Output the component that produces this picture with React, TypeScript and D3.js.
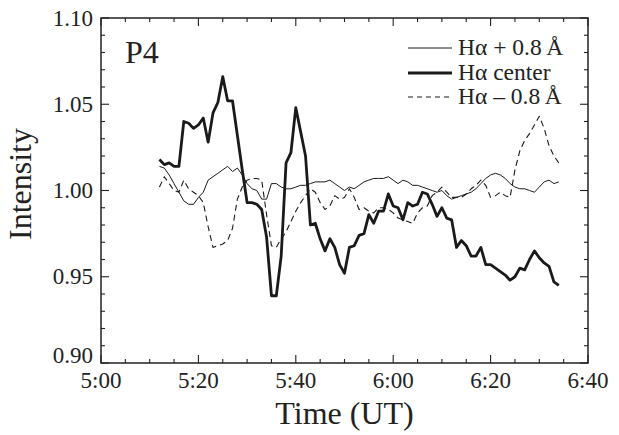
import React from "react";
import * as d3 from "d3";

// minutes after 5:00 UT
const minutes = [
  12, 13, 14, 15, 16, 17, 18, 19, 20, 21, 22, 23, 24, 25, 26, 27, 28, 29, 30, 31,
  32, 33, 34, 35, 36, 37, 38, 39, 40, 41, 42, 43, 44, 45, 46, 47, 48, 49, 50, 51,
  52, 53, 54, 55, 56, 57, 58, 59, 60, 61, 62, 63, 64, 65, 66, 67, 68, 69, 70, 71,
  72, 73, 74, 75, 76, 77, 78, 79, 80, 81, 82, 83, 84, 85, 86, 87, 88, 89, 90, 91,
  92, 93, 94,
];

const haPlus = [
  1.014, 1.013, 1.009, 1.004, 0.999, 0.994, 0.992, 0.992, 0.996, 0.999,
  1.006, 1.008, 1.010, 1.012, 1.014, 1.011, 1.013, 1.009, 1.004, 1.001,
  1.000, 0.995, 0.995, 1.004, 1.004, 1.002, 1.001, 1.001, 1.002, 1.003,
  1.003, 1.004, 1.005, 1.005, 1.005, 1.006, 1.004, 1.002, 1.000, 1.002,
  1.001, 1.003, 1.005, 1.006, 1.007, 1.007, 1.007, 1.008, 1.006, 1.004,
  1.006, 1.005, 1.003, 1.003, 1.002, 1.001, 1.000, 0.999, 1.000, 0.997,
  0.995, 0.996, 0.997, 0.998, 0.999, 1.001, 1.004, 1.007, 1.009, 1.010,
  1.009, 1.007, 1.004, 1.002, 1.001, 1.001, 1.000, 0.999, 1.002, 1.005,
  1.006, 1.004, 1.005,
];

const haCenter = [
  1.018, 1.015, 1.016, 1.014, 1.014, 1.040, 1.039, 1.036, 1.038, 1.042,
  1.028, 1.045, 1.051, 1.066, 1.052, 1.052, 1.032, 1.012, 0.993, 0.993,
  0.992, 0.989, 0.973, 0.939, 0.939, 0.962, 1.016, 1.022, 1.048, 1.034,
  1.020, 0.980, 0.981, 0.972, 0.965, 0.972, 0.967, 0.957, 0.952, 0.967,
  0.968, 0.974, 0.975, 0.986, 0.981, 0.988, 0.988, 0.998, 0.991, 0.990,
  0.983, 0.993, 0.991, 0.992, 0.999, 0.998, 0.992, 0.985, 0.990, 0.984,
  0.983, 0.967, 0.971, 0.968, 0.962, 0.962, 0.967, 0.957, 0.957, 0.955,
  0.953, 0.951, 0.948, 0.950, 0.955, 0.954, 0.960, 0.965, 0.961, 0.958,
  0.956, 0.947, 0.945,
];

const haMinus = [
  1.002, 1.008, 1.004, 1.000, 0.999, 1.006, 1.001, 0.999, 0.997, 0.993,
  0.979, 0.967, 0.968, 0.969, 0.971, 0.978, 0.995, 1.002, 1.006, 1.007,
  1.007, 1.006, 0.986, 0.968, 0.967, 0.972, 0.976, 0.982, 0.988, 0.993,
  0.997, 1.001, 0.999, 0.993, 0.989, 0.991, 0.997, 0.995, 0.996, 1.001,
  0.996, 0.989, 0.990, 0.988, 0.987, 0.990, 0.990, 0.989, 0.987, 0.984,
  0.983, 0.982, 0.981, 0.987, 0.990, 0.991, 0.997, 0.999, 1.002, 0.999,
  0.996, 0.996, 0.996, 0.998, 1.001, 1.003, 1.006, 1.003, 0.996, 0.997,
  0.999, 0.997, 0.996, 1.012, 1.023, 1.029, 1.033, 1.038, 1.043, 1.036,
  1.026, 1.020, 1.016,
];

const xTickLabels = ["5:00", "5:20", "5:40", "6:00", "6:20", "6:40"];
const yTickLabels = ["0.90", "0.95", "1.00", "1.05", "1.10"];
const legendLabels = ["H\u03b1 + 0.8\u2009\u00c5", "H\u03b1 center", "H\u03b1 \u2013 0.8\u2009\u00c5"];

const W = 619;
const H = 435;
const L = 101, R = 588, T = 18, B = 363;
const FONT = "'Liberation Serif', 'Times New Roman', serif";

export default function App() {
  const x = d3.scaleLinear().domain([0, 100]).range([L, R]);
  const y = d3.scaleLinear().domain([0.9, 1.1]).range([B, T]);

  const mk = (vals: number[]) =>
    d3
      .line<number>()
      .x((_, i) => x(minutes[i]))
      .y((d) => y(d))(vals) as string;

  const xMinor = d3.range(0, 101, 5);
  const yMinor = d3.range(0, 21).map((i) => 0.9 + i * 0.01);

  const series = [
    { vals: haPlus, w: 1.0, dash: undefined as string | undefined },
    { vals: haCenter, w: 2.8, dash: undefined },
    { vals: haMinus, w: 1.1, dash: "6,4" },
  ];

  const legendY = [48, 73, 97];

  return (
    <svg
      width={W}
      height={H}
      style={{ position: "absolute", left: 0, top: 0, background: "#fff" }}
      fontFamily={FONT}
    >
      <rect x={0} y={0} width={W} height={H} fill="#fff" />
      {/* ticks */}
      {xMinor.map((m) => {
        const major = m % 20 === 0;
        const len = major ? 8 : 4;
        const xx = x(m);
        return (
          <g key={"xt" + m} stroke="#222" strokeWidth={1.1}>
            <line x1={xx} x2={xx} y1={B} y2={B - len} />
            <line x1={xx} x2={xx} y1={T} y2={T + len} />
          </g>
        );
      })}
      {yMinor.map((v, i) => {
        const major = i % 5 === 0;
        const len = major ? 8 : 4;
        const yy = y(v);
        return (
          <g key={"yt" + i} stroke="#222" strokeWidth={1.1}>
            <line x1={L} x2={L + len} y1={yy} y2={yy} />
            <line x1={R} x2={R - len} y1={yy} y2={yy} />
          </g>
        );
      })}
      <rect x={L} y={T} width={R - L} height={B - T} fill="none" stroke="#222" strokeWidth={1.5} />

      {/* tick labels */}
      {xTickLabels.map((t, i) => (
        <text key={t} x={x(i * 20)} y={388} textAnchor="middle" fontSize={23} fill="#222">
          {t}
        </text>
      ))}
      {yTickLabels.map((t, i) => (
        <text
          key={t}
          x={93}
          y={y(0.9 + i * 0.05) + (i === 0 ? -8 : 0)}
          dy="0.33em"
          textAnchor="end"
          fontSize={23}
          fill="#222"
        >
          {t}
        </text>
      ))}

      {/* axis titles */}
      <text x={(L + R) / 2} y={424} textAnchor="middle" fontSize={32} fill="#222">
        Time (UT)
      </text>
      <text transform="translate(31,184) rotate(-90)" textAnchor="middle" fontSize={32} fill="#222">
        Intensity
      </text>

      {/* series */}
      {series.map((s, i) => (
        <path
          key={"s" + i}
          d={mk(s.vals)}
          fill="none"
          stroke="#1a1a1a"
          strokeWidth={s.w}
          strokeDasharray={s.dash}
          strokeLinejoin="round"
        />
      ))}

      {/* panel label */}
      <text x={125} y={63} fontSize={32} fill="#222">
        P4
      </text>

      {/* legend */}
      {series.map((s, i) => (
        <g key={"lg" + i}>
          <line
            x1={408}
            x2={452}
            y1={legendY[i]}
            y2={legendY[i]}
            stroke="#1a1a1a"
            strokeWidth={s.w}
            strokeDasharray={s.dash ? "5,4" : undefined}
          />
          <text x={458} y={legendY[i] + 7} fontSize={23.5} fill="#222">
            {legendLabels[i]}
          </text>
        </g>
      ))}
    </svg>
  );
}
